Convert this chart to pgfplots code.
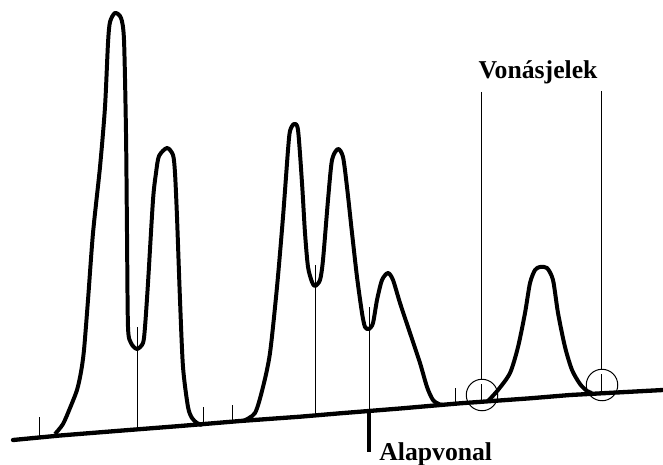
\documentclass[border=0pt]{standalone}
\usepackage{fontspec}
\setmainfont{Liberation Serif}
\usepackage{pgfplots}
\pgfplotsset{compat=1.18}
\begin{document}
\begin{tikzpicture}
\begin{axis}[
  scale only axis, width=400pt, height=279.94pt,
  xmin=0, xmax=663, ymin=0, ymax=464, y dir=reverse,
  hide axis, clip=false,
]
\coordinate (ll) at (axis cs:0,464);
\coordinate (ur) at (axis cs:663,0);
% baseline
\addplot[black, line width=2.6pt, line cap=round] coordinates {
(13,440) (60,435.5) (120,430.7) (180,426) (240,421) (300,416.7) (340,413.3)
(400,408.5) (460,403.3) (530,398.3) (570,395) (663,390)};
% first group
\addplot[black, line width=2.4pt, smooth, tension=0.45, line join=round] coordinates {
(55,434) (63,424) (70,408) (77,390) (81,372) (84,350) (88,300) (93,233) (100,167)
(105,107) (108,43) (110,22) (115,13) (121,18) (124,40) (126,133) (127,233)
(128,327) (131,343) (137,349) (143,343) (145,327) (148,283) (153,200) (156,173)
(159,156) (167,148) (173,155) (175,173) (177,217) (180,300) (183,367) (188,407)
(192,418) (197,423) (202,425)};
% second group
\addplot[black, line width=2.4pt, smooth, tension=0.45, line join=round] coordinates {
(243,421) (255,413) (263,387) (270,353) (277,287) (283,217) (288,150) (290,131)
(294,124) (298,130) (302,183) (305,233) (308,267) (312,282) (315,286) (320,280)
(323,260) (328,200) (332,160) (338,149) (343,157) (347,187) (352,233) (357,277)
(362,313) (365,327) (369,329) (373,323) (377,300) (382,280) (388,273) (393,280)
(400,303) (410,333) (420,363) (427,387) (433,400) (440,404.5) (445,405)};
% third peak
\addplot[black, line width=2.4pt, smooth, tension=0.45, line join=round] coordinates {
(488,401) (498,390) (510,373) (518,347) (525,313) (530,283) (535,270) (540,267)
(547,268) (553,280) (558,313) (565,347) (572,370) (580,384) (587,391) (592,393)};
% drop lines from valleys
\addplot[black, line width=0.6pt] coordinates {(137,327) (137,429.5)};
\addplot[black, line width=0.6pt] coordinates {(315,265) (315,415.5)};
\addplot[black, line width=0.6pt] coordinates {(369,307) (369,410)};
% baseline marker
\addplot[black, line width=2.4pt] coordinates {(369,410) (369,452)};
% small tick marks
\addplot[black, line width=0.6pt] coordinates {(39,438) (39,417)};
\addplot[black, line width=0.6pt] coordinates {(203,424) (203,407)};
\addplot[black, line width=0.6pt] coordinates {(232,422) (232,405)};
\addplot[black, line width=0.6pt] coordinates {(455,404) (455,388)};
\addplot[black, line width=0.6pt] coordinates {(481.5,400.5) (481.5,384)};
\addplot[black, line width=0.6pt] coordinates {(601.5,392) (601.5,374)};
% leader lines
\addplot[black, line width=0.6pt] coordinates {(481.5,92) (481.5,380)};
\addplot[black, line width=0.6pt] coordinates {(601.5,91) (601.5,369)};
% circles
\addplot[only marks, mark=o, mark size=9.5pt, mark options={line width=0.6pt, black}]
  coordinates {(482,395) (602,385)};
% labels
\node[anchor=base, font=\fontsize{15.5}{18}\selectfont\bfseries, inner sep=0pt]
  at (axis cs:538,79) {Vonásjelek};
\node[anchor=base west, font=\fontsize{15.5}{18}\selectfont\bfseries, inner sep=0pt]
  at (axis cs:379,460) {Alapvonal};
\end{axis}
\pgfresetboundingbox
\path (ll) rectangle (ur);
\end{tikzpicture}
\end{document}
